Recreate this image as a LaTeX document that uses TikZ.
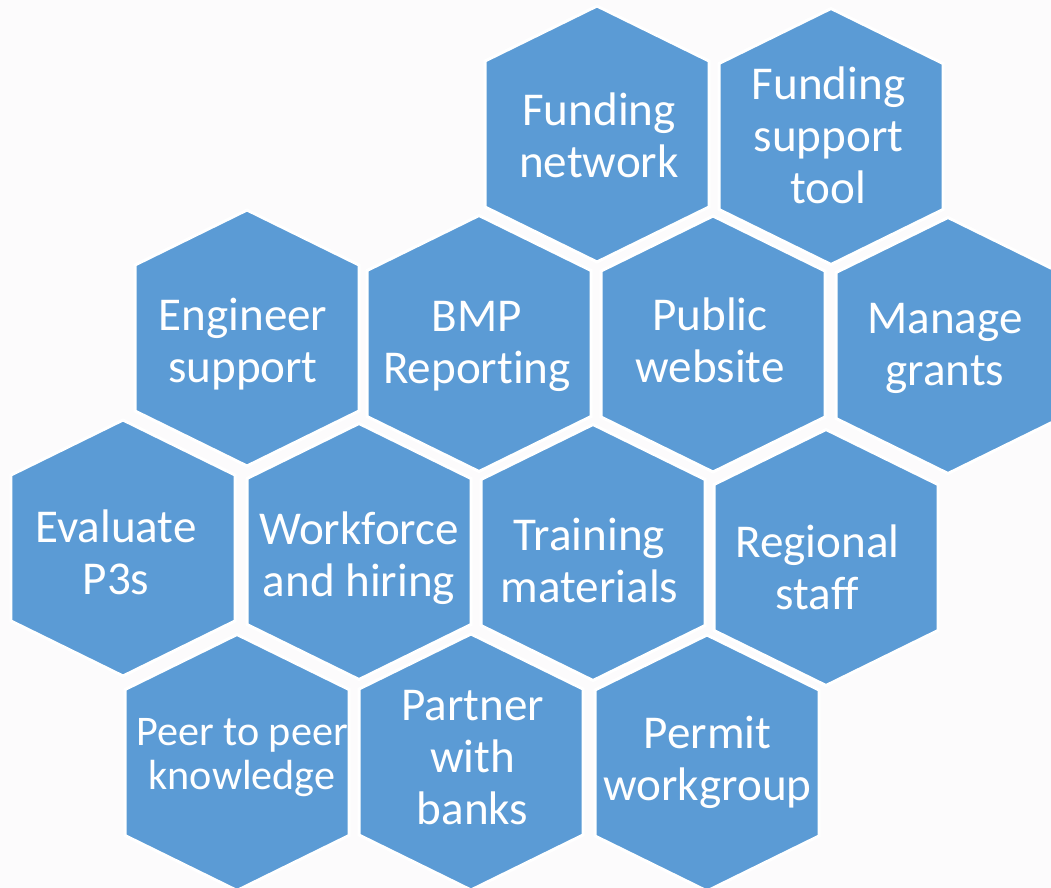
\documentclass[tikz,border=0pt]{standalone}
\usepackage{fontspec}
\setmainfont{Carlito}[Ligatures=NoCommon]
\usepackage{xcolor}
\definecolor{hexblue}{RGB}{91,155,213}
\definecolor{paper}{RGB}{252,251,252}

\begin{document}
\begin{tikzpicture}[x=0.02cm, y=-0.02cm,
    hexcell/.style={fill=hexblue, draw=white, line width=0.06cm, line join=miter},
    every node/.style={text=white, align=center, inner sep=0pt, font=\fontsize{26.8}{29.6}\selectfont}]
    \useasboundingbox (0,0) rectangle (1051,888);
    \fill[paper] (0,0) rectangle (1051,888);
    \clip (0,0) rectangle (1051,888);
    % hexagon cells
    \foreach \cx/\cy in {597/134, 831/136.5, 247/338, 479/343.5, 713/344, 948/345.5,
        123/548, 359/551.5, 593/552.5, 826/557.5, 237/762.5, 471/762, 707/763}
        \draw[hexcell] (\cx,\cy) +(0,-128) -- +(112,-73) -- +(112,73) -- +(0,128)
            -- +(-112,73) -- +(-112,-73) -- cycle;
    % labels
    \node (fundnet) at (599,135) {Funding\\network};
    \node (fundtool) at (828.5,135) {Funding\\support\\tool};
    \node (engineer) at (243,343.7) {Engineer\\support};
    \node (bmp) at (477,346.7) {BMP\\Reporting};
    \node (public) at (710,340.5) {Public\\website};
    \node (grants) at (945,348.3) {Manage\\grants};
    \node (evalp3) at (116,552) {Evaluate\\P3s};
    \node (workforce) at (359,558) {Workforce\\and hiring};
    \node (training) at (589.5,560.8) {Training\\materials};
    \node (regional) at (817.5,567.5) {Regional\\staff};
    \node[font=\fontsize{24}{25}\selectfont] (peer) at (242,757.3) {Peer to peer\\knowledge};
    \node (banks) at (472.5,757.5) {Partner\\with\\banks};
    \node (permit) at (707.5,762.5) {Permit\\workgroup};
\end{tikzpicture}
\end{document}
